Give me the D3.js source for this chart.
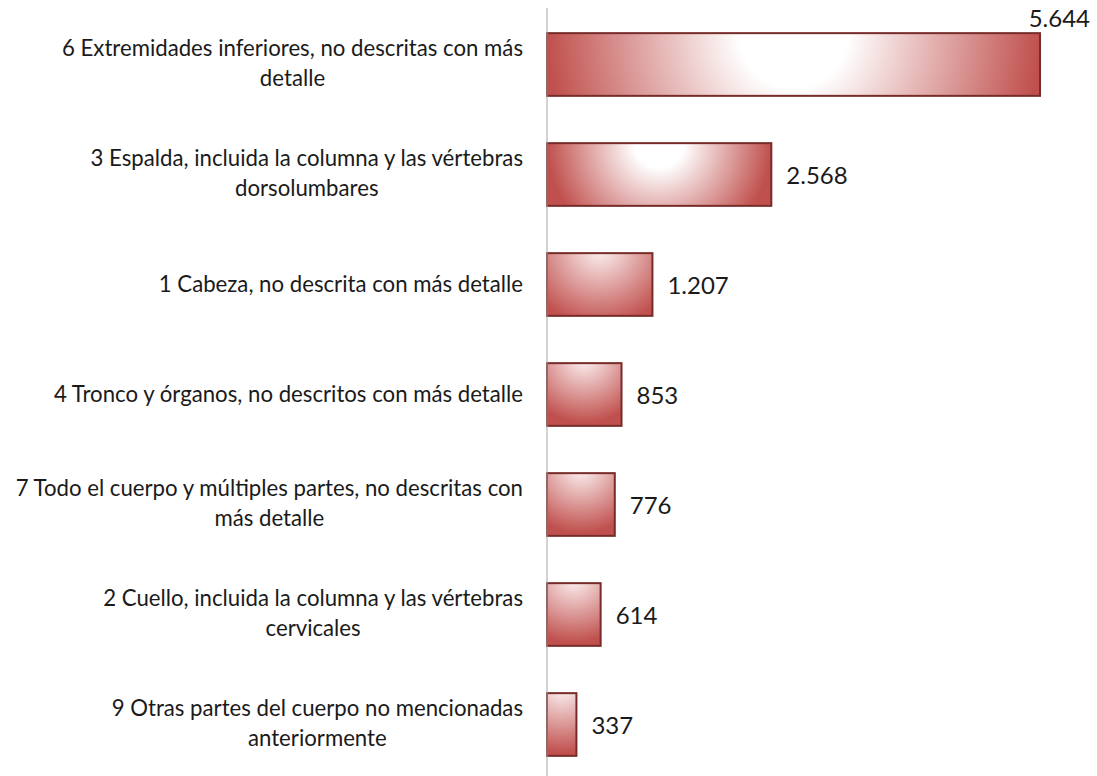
<!DOCTYPE html>
<html>
<head>
<meta charset="utf-8">
<title></title>
<style>
	body { margin: 0; background: #fff; }
	svg text { font-family: Lato, "Noto Sans", sans-serif; fill: #1a1a1a; }
</style>
</head>
<body>
<div class="chart"></div>
<script src="https://cdn.jsdelivr.net/npm/d3@7/dist/d3.min.js"></script>
<script type="text/javascript">
	var categories = [
		["6 Extremidades inferiores, no descritas con más", "detalle"],
		["3 Espalda, incluida la columna y las vértebras", "dorsolumbares"],
		["1 Cabeza, no descrita con más detalle"],
		["4 Tronco y órganos, no descritos con más detalle"],
		["7 Todo el cuerpo y múltiples partes, no descritas con", "más detalle"],
		["2 Cuello, incluida la columna y las vértebras", "cervicales"],
		["9 Otras partes del cuerpo no mencionadas", "anteriormente"]
	];
	var values = [5644, 2568, 1207, 853, 776, 614, 337];
	var valueLabels = ["5.644", "2.568", "1.207", "853", "776", "614", "337"];

	var width  = 1097;
	var height = 776;
	var x0     = 547;
	var labelX = 523;
	var fs     = 22.2;

	var svg = d3.select('.chart').append("svg").attr("width", width).attr("height", height);
	var defs = svg.append("defs");

	var x = d3.scaleLinear().domain([0, 5644]).range([x0, 1040]);
	var y = d3.scaleBand().domain(d3.range(values.length)).range([9.5, 779.5]).paddingInner(0.43).paddingOuter(0.215);

	// one radial gradient per bar, white at top centre, red towards the edges
	values.forEach(function(v, i) {
		var w = x(v) - x0, h = y.bandwidth();
		var wide = w / 2 > h;
		var g = defs.append("radialGradient")
			.attr("id", "g" + i)
			.attr("gradientUnits", "userSpaceOnUse")
			.attr("cx", x0 + w / 2).attr("cy", y(i) - (wide ? 0 : 6))
			.attr("r", wide ? w / 2 : Math.max(h * 1.05, w * 0.75));
		g.append("stop").attr("offset", 0).attr("stop-color", "#ffffff");
		g.append("stop").attr("offset", wide ? 0.22 : 0.05).attr("stop-color", wide ? "#ffffff" : "#fbeeee");
		g.append("stop").attr("offset", 1).attr("stop-color", "#c0504d");
	});

	svg.selectAll("rect.bar").data(values).enter().append("rect")
		.attr("class", "bar")
		.attr("x", x0)
		.attr("y", function(d, i) { return y(i); })
		.attr("width", function(d) { return x(d) - x0; })
		.attr("height", y.bandwidth())
		.attr("fill", function(d, i) { return "url(#g" + i + ")"; })
		.attr("stroke", "#772c2a")
		.attr("stroke-width", 2);

	svg.append("line")
		.attr("x1", x0).attr("y1", 8)
		.attr("x2", x0).attr("y2", height)
		.attr("stroke", "#a6a6a6")
		.attr("stroke-width", 1);

	// value labels
	svg.selectAll("text.val").data(values).enter().append("text")
		.attr("class", "val")
		.attr("font-size", 24)
		.attr("x", function(d, i) { return i == 0 ? 1090 : x(d) + 15; })
		.attr("y", function(d, i) { return i == 0 ? 27 : y(i) + y.bandwidth() / 2 + 9; })
		.attr("text-anchor", function(d, i) { return i == 0 ? "end" : "start"; })
		.text(function(d, i) { return valueLabels[i]; });

	// category labels, second line centred under the first
	categories.forEach(function(lines, i) {
		var cy = y(i) + y.bandwidth() / 2;
		if (lines.length == 1) {
			svg.append("text").attr("font-size", fs)
				.attr("x", labelX).attr("y", cy + 7)
				.attr("text-anchor", "end").text(lines[0]);
		} else {
			var t1 = svg.append("text").attr("font-size", fs)
				.attr("x", labelX).attr("y", cy - 9)
				.attr("text-anchor", "end").text(lines[0]);
			var w1 = t1.node().getComputedTextLength();
			svg.append("text").attr("font-size", fs)
				.attr("x", labelX - w1 / 2).attr("y", cy + 21)
				.attr("text-anchor", "middle").text(lines[1]);
		}
	});
</script>
</body>
</html>
